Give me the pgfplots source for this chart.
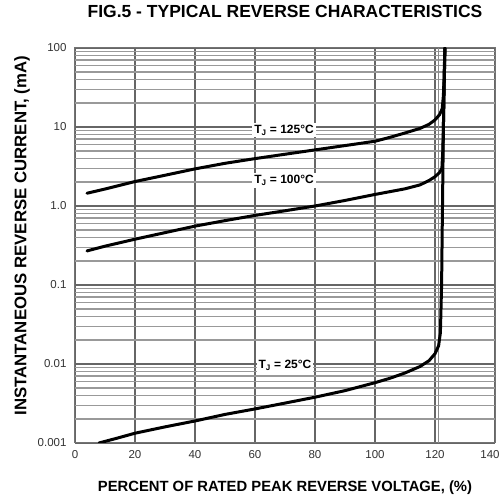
\documentclass[border=0pt]{standalone}
\usepackage{pgfplots}
\pgfplotsset{compat=1.18}
\usepackage{fontspec}
\setmainfont{Liberation Sans}
\begin{document}
\begin{tikzpicture}
\begin{axis}[
  name=ax, scale only axis, width=420pt, height=395pt,
  xmin=0, xmax=140, ymode=log, ymin=0.001, ymax=100,
  xtick={0,20,...,140},
  xticklabels={0,20,40,60,80,100,120,{\hspace*{-10pt}140}},
  ytick={0.001,0.01,0.1,1,10,100},
  yticklabels={0.001,0.01,0.1,1.0,10,100},
  major tick length=0pt, minor tick length=0pt,
  xmajorgrids, ymajorgrids, yminorgrids,
  major grid style={black!60, line width=1.5pt},
  minor grid style={black!40, line width=1.6pt},
  axis line style={black!55, line width=1pt},
  extra x ticks={121}, extra x tick labels={},
  extra tick style={grid=major, major grid style={black!45, line width=0.9pt}},
  tick label style={font=\fontsize{11.5}{13}\selectfont, text=black!80},
  xticklabel style={yshift=-4pt},
  yticklabel style={xshift=-5pt},
  title={\textbf{FIG.5 - TYPICAL REVERSE CHARACTERISTICS}},
  title style={at={(0.5,1)}, anchor=center, yshift=31pt, font=\fontsize{17.5}{20}\selectfont},
  xlabel={\textbf{PERCENT OF RATED PEAK REVERSE VOLTAGE, (\%)}},
  xlabel style={at={(axis description cs:0.5,0)}, anchor=center, yshift=-45pt, font=\fontsize{14.8}{16}\selectfont},
  ylabel={\textbf{INSTANTANEOUS REVERSE CURRENT, (mA)}},
  ylabel style={at={(axis description cs:0,0.525)}, anchor=center, yshift=53pt, font=\fontsize{16.8}{18}\selectfont},
  curve/.style={black, no markers, line width=3pt, line join=round, line cap=round},
]
% T_J = 125 C
\addplot[curve] coordinates {
(4,1.45) (10,1.64) (20,2.04) (30,2.45) (40,2.95) (50,3.47) (60,3.98) (70,4.52)
(80,5.13) (90,5.82) (100,6.6) (105,7.4) (110,8.4) (115,9.6) (118,10.8)
(120,12.3) (121.5,14.3) (122.4,17) (122.8,25) (123.0,40) (123.3,100)};
% T_J = 100 C
\addplot[curve] coordinates {
(4,0.27) (10,0.31) (20,0.38) (30,0.46) (40,0.556) (50,0.653) (60,0.76)
(70,0.87) (80,1.0) (90,1.175) (100,1.4) (105,1.52) (110,1.65) (115,1.85)
(118,2.1) (120,2.35) (121.5,2.65) (122.3,3.0) (122.6,5) (122.8,10) (123.3,100)};
% T_J = 25 C
\addplot[curve] coordinates {
(8,0.001) (14,0.00115) (20,0.00133) (30,0.0016) (40,0.0019) (50,0.0023)
(60,0.0027) (70,0.0032) (80,0.0038) (90,0.0046) (100,0.0058) (105,0.0066)
(110,0.0077) (115,0.0093) (118,0.011) (120,0.0135) (121.2,0.017)
(121.8,0.025) (122.0,0.05) (122.2,0.1) (122.4,0.5) (122.5,1) (122.8,10) (123.3,100)};
\node[fill=white, inner sep=2pt, font=\fontsize{12}{13}\selectfont\bfseries] at (axis cs:69.7,9.1) {T\textsubscript{J} = 125\textdegree C};
\node[fill=white, inner sep=2pt, font=\fontsize{12}{13}\selectfont\bfseries] at (axis cs:69.7,2.1) {T\textsubscript{J} = 100\textdegree C};
\node[fill=white, inner sep=2pt, font=\fontsize{12}{13}\selectfont\bfseries] at (axis cs:70,0.0097) {T\textsubscript{J} = 25\textdegree C};
\end{axis}
\pgfresetboundingbox
\useasboundingbox ([xshift=-75pt,yshift=-54pt]ax.south west) rectangle ([xshift=6pt,yshift=48pt]ax.north east);
\end{tikzpicture}
\end{document}
